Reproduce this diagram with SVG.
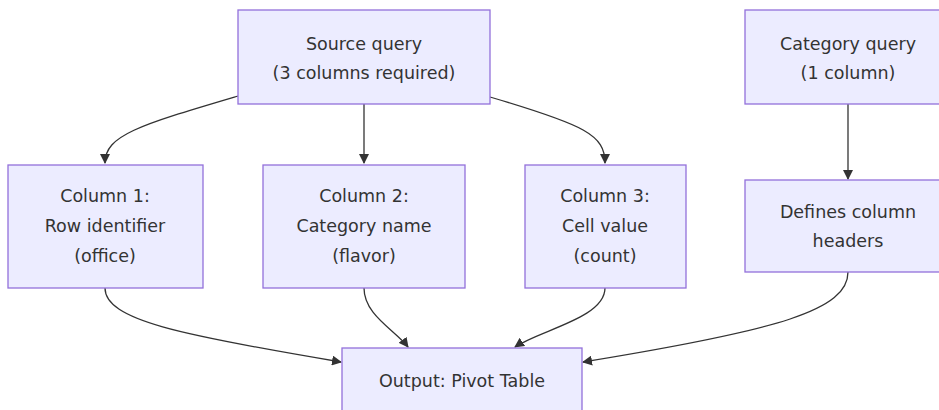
<svg xmlns="http://www.w3.org/2000/svg" width="939" height="410" viewBox="0 0 939 410">
<style>
.n rect{fill:#ECECFF;stroke:#9370DB;stroke-width:1.3}
.n text{font-family:"DejaVu Sans","Liberation Sans",sans-serif;font-size:17.5px;fill:#333;text-anchor:middle}
.e path{fill:none;stroke:#333;stroke-width:1.3}
</style>
<defs>
<marker id="ah" viewBox="0 0 10 10" refX="9" refY="5" markerWidth="10" markerHeight="10" markerUnits="userSpaceOnUse" orient="auto">
<path d="M0,0 L10,5 L0,10 z" fill="#333"/>
</marker>
</defs>
<rect width="939" height="410" fill="#fff"/>
<g class="e">
<path d="M238,96 C140,125 105,135 105,163" marker-end="url(#ah)"/>
<path d="M364,104 L364,163" marker-end="url(#ah)"/>
<path d="M490,97 C585,125 605,135 605,163" marker-end="url(#ah)"/>
<path d="M848,104 L848,179" marker-end="url(#ah)"/>
<path d="M105,288 C105,320 180,335 341,362" marker-end="url(#ah)"/>
<path d="M364,288 C364,315 395,330 408,347" marker-end="url(#ah)"/>
<path d="M605,288 C605,318 540,330 515,347" marker-end="url(#ah)"/>
<path d="M848,272 C848,310 780,330 583,362" marker-end="url(#ah)"/>
</g>
<g id="source" class="n"><rect x="238" y="10" width="252" height="94"/><text x="364" y="50">Source query</text><text x="364" y="79">(3 columns required)</text></g>
<g id="category" class="n"><rect x="745" y="10" width="206" height="94"/><text x="848" y="50">Category query</text><text x="848" y="79">(1 column)</text></g>
<g id="col1" class="n"><rect x="8" y="165" width="195" height="123"/><text x="105" y="202">Column 1:</text><text x="105" y="232">Row identifier</text><text x="105" y="262">(office)</text></g>
<g id="col2" class="n"><rect x="263" y="165" width="202" height="123"/><text x="364" y="202">Column 2:</text><text x="364" y="232">Category name</text><text x="364" y="262">(flavor)</text></g>
<g id="col3" class="n"><rect x="525" y="165" width="161" height="123"/><text x="605" y="202">Column 3:</text><text x="605" y="232">Cell value</text><text x="605" y="262">(count)</text></g>
<g id="defines" class="n"><rect x="745" y="180" width="206" height="92"/><text x="848" y="218">Defines column</text><text x="848" y="247">headers</text></g>
<g id="output" class="n"><rect x="342" y="348" width="240" height="80"/><text x="462" y="387">Output: Pivot Table</text></g>
</svg>
